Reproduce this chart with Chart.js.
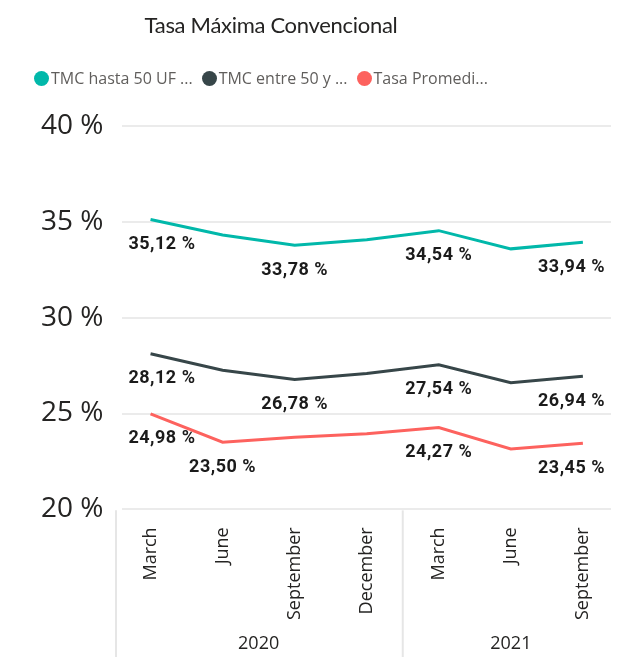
<!DOCTYPE html>
<html>
<head>
<meta charset="utf-8">
<script src="https://cdn.jsdelivr.net/npm/chart.js@4"></script>
<style>
  body { margin: 0; background: #fff; }
  #wrap { position: relative; width: 643px; height: 657px; }
  #title {
    position: absolute; left: 0; width: 542px; top: 11px; text-align: center;
    font-family: Lato, sans-serif; font-size: 22px; letter-spacing: -0.3px; color: #252423;
  }
  #legend {
    position: absolute; left: 34px; top: 67px; display: flex; align-items: center;
    font-family: "Open Sans", sans-serif; font-size: 16px; color: #605e5c;
  }
  .item { display: flex; align-items: center; margin-right: 9px; }
  .dot { width: 15px; height: 15px; border-radius: 50%; margin-right: 2px; }
</style>
</head>
<body>
<div id="wrap">
  <canvas id="chart" width="643" height="657"></canvas>
  <div id="title">Tasa Máxima Convencional</div>
  <div id="legend"></div>
</div>
<script>
const months = ["March", "June", "September", "December", "March", "June", "September"];
const years = ["2020", "2020", "2020", "2020", "2021", "2021", "2021"];
const seriesNames = ["TMC hasta 50 UF ...", "TMC entre 50 y ...", "Tasa Promedi..."];
const tmcHasta50 = [35.12, 34.31, 33.78, 34.07, 34.54, 33.59, 33.94];
const tmcEntre50 = [28.12, 27.26, 26.78, 27.09, 27.54, 26.61, 26.94];
const tasaPromedio = [24.98, 23.50, 23.76, 23.95, 24.27, 23.15, 23.45];
const labelShown = [[0, 2, 4, 6], [0, 2, 4, 6], [0, 1, 4, 6]];
const colors = ["#01B8AA", "#374649", "#FD625E"];
const yTicks = [20, 25, 30, 35, 40];

const fmt = v => v.toFixed(2).replace(".", ",") + " %";

// legend in html
const legend = document.getElementById("legend");
seriesNames.forEach((name, i) => {
  const it = document.createElement("div");
  it.className = "item";
  it.innerHTML = '<span class="dot" style="background:' + colors[i] + '"></span>' + name;
  legend.appendChild(it);
});

// data labels under the points
const pointLabels = {
  id: "pointLabels",
  afterDatasetsDraw(chart) {
    const ctx = chart.ctx;
    const area = chart.chartArea;
    ctx.save();
    ctx.font = "bold 18px Roboto";
    ctx.letterSpacing = "0.5px";
    ctx.fillStyle = "#1b1b1b";
    ctx.textAlign = "center";
    ctx.textBaseline = "middle";
    chart.data.datasets.forEach((ds, di) => {
      const meta = chart.getDatasetMeta(di);
      labelShown[di].forEach(i => {
        const pt = meta.data[i];
        const txt = fmt(ds.data[i].y);
        const w = ctx.measureText(txt).width;
        let x = pt.x;
        x = Math.max(area.left + 6 + w / 2, Math.min(area.right - 6 - w / 2, x));
        ctx.fillText(txt, x, pt.y + 25);
      });
    });
    ctx.restore();
  }
};

// year groups under the month labels
const yearGroups = {
  id: "yearGroups",
  afterDraw(chart) {
    const ctx = chart.ctx;
    const x = chart.scales.x;
    const top = chart.chartArea.bottom + 1;
    const bottom = chart.height;
    ctx.save();
    ctx.strokeStyle = "#e6e6e6";
    ctx.lineWidth = 2;
    ctx.beginPath();
    ctx.moveTo(116, top);
    ctx.lineTo(116, bottom);
    ctx.stroke();
    ctx.font = "18px 'Open Sans'";
    ctx.fillStyle = "#252423";
    ctx.textAlign = "center";
    ctx.textBaseline = "middle";
    let start = 0;
    for (let i = 1; i <= years.length; i++) {
      if (i === years.length || years[i] !== years[start]) {
        const mid = (x.getPixelForValue(start) + x.getPixelForValue(i - 1)) / 2;
        ctx.fillText(years[start], mid, bottom - 13);
        if (i < years.length) {
          const sep = (x.getPixelForValue(i - 1) + x.getPixelForValue(i)) / 2;
          ctx.beginPath();
          ctx.moveTo(sep, top);
          ctx.lineTo(sep, bottom);
          ctx.stroke();
        }
        start = i;
      }
    }
    ctx.restore();
  }
};

const toPoints = arr => arr.map((v, i) => ({ x: i, y: v }));

new Chart(document.getElementById("chart"), {
  type: "line",
  data: {
    datasets: [tmcHasta50, tmcEntre50, tasaPromedio].map((vals, i) => ({
      label: seriesNames[i],
      data: toPoints(vals),
      borderColor: colors[i],
      backgroundColor: colors[i],
      borderWidth: 3,
      pointRadius: 0,
      tension: 0
    }))
  },
  options: {
    responsive: false,
    animation: false,
    layout: { padding: { left: 22, right: 32, top: 126, bottom: 27 } },
    plugins: { legend: { display: false }, title: { display: false }, tooltip: { enabled: false } },
    scales: {
      x: {
        type: "linear",
        min: -0.39,
        max: 6.39,
        afterBuildTicks: s => { s.ticks = months.map((m, i) => ({ value: i })); },
        grid: { display: false },
        border: { display: false },
        ticks: {
          autoSkip: false,
          minRotation: 90,
          maxRotation: 90,
          padding: 10,
          color: "#252423",
          font: { family: "Open Sans", size: 18 },
          callback: v => months[v]
        }
      },
      y: {
        min: 20,
        max: 40,
        afterBuildTicks: s => { s.ticks = yTicks.map(v => ({ value: v })); },
        grid: { color: "#ebebeb", lineWidth: 2, drawTicks: false },
        border: { display: false },
        ticks: {
          padding: 19,
          color: "#252423",
          font: { family: "Open Sans", size: 28 },
          callback: v => v + " %"
        }
      }
    }
  },
  plugins: [pointLabels, yearGroups]
});
</script>
</body>
</html>
